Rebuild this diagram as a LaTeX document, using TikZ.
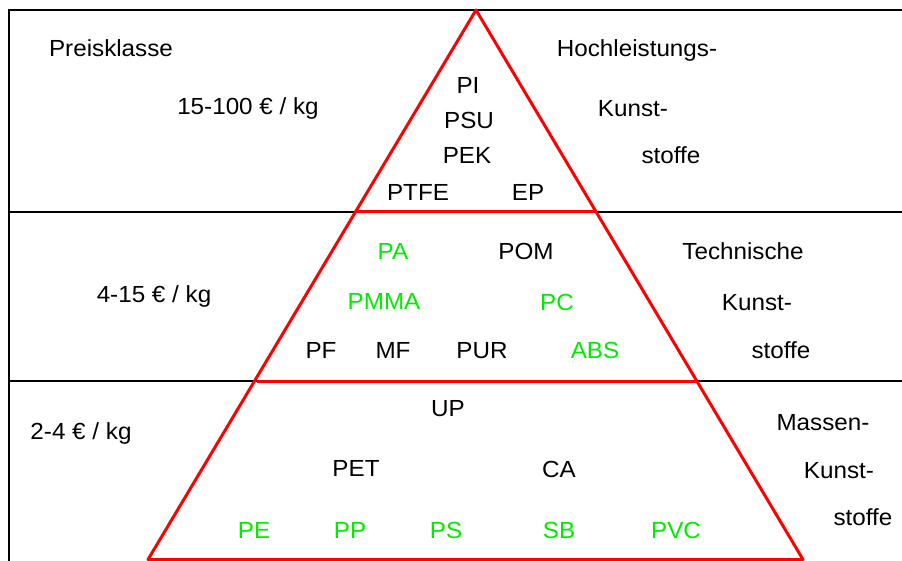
\documentclass[tikz,border=0pt]{standalone}
\usepackage{fontspec}
\setmainfont[FakeStretch=1.04]{Liberation Sans}
\definecolor{pyred}{RGB}{255,0,0}
\definecolor{pygreen}{RGB}{0,235,0}
\tikzset{
  lbl/.style={anchor=base, inner sep=0pt, font=\fontsize{23.3}{26}\selectfont, text=black},
  glbl/.style={lbl, text=pygreen},
  frame/.style={draw=black, line width=1.6pt},
  redline/.style={draw=pyred, line width=3pt, line join=round},
}
\begin{document}
\begin{tikzpicture}[x=1pt,y=-1pt]
\useasboundingbox (0,0) rectangle (902,561);
% frame coordinates
\coordinate (TL) at (9,10);
\coordinate (TR) at (902,10);
\coordinate (BLf) at (9,561);
\coordinate (A1) at (9,212);
\coordinate (B1) at (902,212);
\coordinate (A2) at (9,381);
\coordinate (B2) at (902,381);
% pyramid coordinates
\coordinate (apex) at (476,10);
\coordinate (L1) at (356,212);
\coordinate (R1) at (596,212);
\coordinate (L2) at (256.5,381);
\coordinate (R2) at (697,381);
\coordinate (L3) at (148,559.5);
\coordinate (R3) at (803,559.5);
% black frame
\draw[frame] (BLf) -- (TL) -- (TR);
\draw[frame] (A1) -- (B1);
\draw[frame] (A2) -- (B2);
% red pyramid
\draw[redline] (L3) -- (apex) -- (R3) -- cycle;
\draw[redline] (L1) -- (R1);
\draw[redline] (L2) -- (R2);
% top band
\node[lbl] (preis) at (111,56.5) {Preisklasse};
\node[lbl] (p1) at (248,114.5) {15-100 € / kg};
\node[lbl] (pi) at (468,93.5) {PI};
\node[lbl] (psu) at (469,128.5) {PSU};
\node[lbl] (pek) at (467,163.5) {PEK};
\node[lbl] (ptfe) at (418,200.5) {PTFE};
\node[lbl] (ep) at (528,200.5) {EP};
\node[lbl] (h1) at (637,56.5) {Hochleistungs-};
\node[lbl] (h2) at (633,117) {Kunst-};
\node[lbl] (h3) at (671,163.5) {stoffe};
% middle band
\node[glbl] (pa) at (393,260) {PA};
\node[lbl] (pom) at (526,260) {POM};
\node[lbl] (t1) at (743,260) {Technische};
\node[lbl] (p2) at (154,302) {4-15 € / kg};
\node[glbl] (pmma) at (384,309) {PMMA};
\node[glbl] (pc) at (557,310) {PC};
\node[lbl] (t2) at (757,311) {Kunst-};
\node[lbl] (pf) at (321,358.5) {PF};
\node[lbl] (mf) at (393,358.5) {MF};
\node[lbl] (pur) at (482,358.5) {PUR};
\node[glbl] (abs) at (595,358.5) {ABS};
\node[lbl] (t3) at (781,358.5) {stoffe};
% bottom band
\node[lbl] (up) at (448,416.5) {UP};
\node[lbl] (p3) at (81,439) {2-4 € / kg};
\node[lbl] (m1) at (823,430) {Massen-};
\node[lbl] (pet) at (356,476.5) {PET};
\node[lbl] (ca) at (559,477.5) {CA};
\node[lbl] (m2) at (839,478) {Kunst-};
\node[glbl] (pe) at (254,538.5) {PE};
\node[glbl] (pp) at (350,538.5) {PP};
\node[glbl] (ps) at (446,538.5) {PS};
\node[glbl] (sb) at (559,538.5) {SB};
\node[glbl] (pvc) at (676,538.5) {PVC};
\node[lbl] (m3) at (863,525.5) {stoffe};
\end{tikzpicture}
\end{document}
